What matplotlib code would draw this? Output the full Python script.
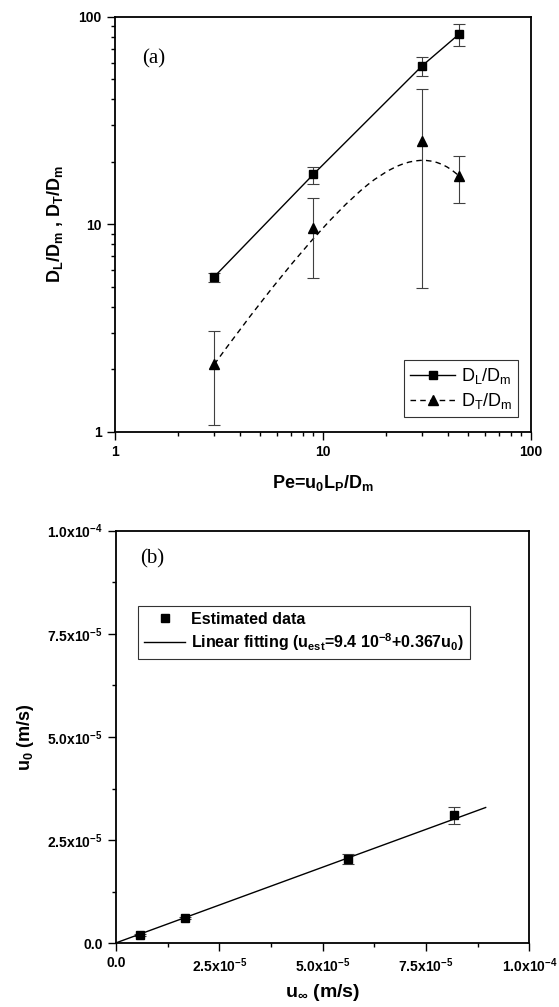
import numpy as np
import matplotlib
matplotlib.use("Agg")
import matplotlib.pyplot as plt
from matplotlib.path import Path
from matplotlib.patches import PathPatch
from matplotlib.lines import Line2D
from matplotlib.ticker import FixedLocator, FixedFormatter, NullFormatter, LogLocator

plt.rcParams['font.family'] = ['Liberation Sans', 'DejaVu Sans']
plt.rcParams['mathtext.default'] = 'regular'

# panel (a) data
pe = [3, 9, 30, 45]
dl = [5.58, 17.4, 58.0, 82.2]
dl_lo = [5.28, 15.7, 51.8, 72.5]
dl_hi = [5.84, 18.9, 64.0, 91.9]
dt = [2.11, 9.55, 25.2, 17.1]
dt_lo = [1.08, 5.53, 4.91, 12.7]
dt_hi = [3.07, 13.4, 44.7, 21.3]

# panel (b) data
u_inf = [5.7e-6, 16.6e-6, 56.0e-6, 81.7e-6]
u0 = [2.0e-6, 6.06e-6, 20.4e-6, 31.0e-6]
u0_err = [0.3e-6, 0.3e-6, 1.3e-6, 2.1e-6]
fit_x = [0.0, 8.94e-5]
fit_a, fit_b = 9.4e-8, 0.367

fig = plt.figure(figsize=(5.59, 10.07), dpi=100)
ax1 = fig.add_axes([0.2057, 0.5713, 0.744, 0.4121])
ax2 = fig.add_axes([0.2075, 0.0633, 0.7397, 0.4097])

ebar = dict(fmt='none', ecolor='0.25', elinewidth=0.8, capsize=4.5, capthick=0.8)
dash = (0, (4, 3))

# ---- (a)
ax1.set_xscale('log')
ax1.set_yscale('log')
ax1.errorbar(pe, dl, yerr=[np.subtract(dl, dl_lo), np.subtract(dl_hi, dl)], **ebar)
ax1.errorbar(pe, dt, yerr=[np.subtract(dt, dt_lo), np.subtract(dt_hi, dt)], **ebar)
l1, = ax1.plot(pe, dl, 'k-', marker='s', ms=5.3, lw=1.0)
# quadratic B-spline through the points as control points (drawn in log space)
mid = (np.sqrt(pe[1] * pe[2]), np.sqrt(dt[1] * dt[2]))
verts = [(pe[0], dt[0]), (pe[1], dt[1]), mid, (pe[2], dt[2]), (pe[3], dt[3])]
codes = [Path.MOVETO, Path.CURVE3, Path.CURVE3, Path.CURVE3, Path.CURVE3]
ax1.add_patch(PathPatch(Path(verts, codes), fill=False, ec='k', lw=1.0, ls=dash))
ax1.plot(pe, dt, 'k^', ms=7, ls='none')
h2 = Line2D([], [], color='k', marker='^', ms=7, lw=1.0, ls=dash)
ax1.set_xlim(1, 100)
ax1.set_ylim(1, 100)
for a in (ax1.xaxis, ax1.yaxis):
    a.set_major_locator(FixedLocator([1, 10, 100]))
    a.set_major_formatter(FixedFormatter(['1', '10', '100']))
    a.set_minor_locator(LogLocator(subs=np.arange(2, 10)))
    a.set_minor_formatter(NullFormatter())
ax1.set_xlabel(r'Pe=u$_0$L$_P$/D$_m$', fontsize=13, fontweight='bold', labelpad=10)
ax1.set_ylabel(r'D$_L$/D$_m$ , D$_T$/D$_m$', fontsize=13, fontweight='bold', labelpad=10)
ax1.text(0.066, 0.898, '(a)', transform=ax1.transAxes, fontsize=15,
         family='Liberation Serif', va='center')
leg1 = ax1.legend([l1, h2], [r'D$_L$/D$_m$', r'D$_T$/D$_m$'], loc='lower right',
                  bbox_to_anchor=(0.97, 0.035), fontsize=13, frameon=True, fancybox=False,
                  edgecolor='k', handlelength=2.5, handletextpad=0.3, borderpad=0.35,
                  labelspacing=0.25, borderaxespad=0)
leg1.get_frame().set_linewidth(0.8)

# ---- (b)
ax2.errorbar(u_inf, u0, yerr=u0_err, **ebar)
pts, = ax2.plot(u_inf, u0, 'ks', ms=5.3, ls='none')
fx = np.array(fit_x)
fl, = ax2.plot(fx, fit_a + fit_b * fx, 'k-', lw=1.0)
ax2.set_xlim(0, 1e-4)
ax2.set_ylim(0, 1e-4)
maj = [0, 2.5e-5, 5e-5, 7.5e-5, 1e-4]
labs = ['0.0', r'2.5x10$^{-5}$', r'5.0x10$^{-5}$', r'7.5x10$^{-5}$', r'1.0x10$^{-4}$']
for a in (ax2.xaxis, ax2.yaxis):
    a.set_major_locator(FixedLocator(maj))
    a.set_major_formatter(FixedFormatter(labs))
    a.set_minor_locator(FixedLocator([1.25e-5, 3.75e-5, 6.25e-5, 8.75e-5]))
ax2.set_xlabel(r'u$_\infty$ (m/s)', fontsize=14, fontweight='bold', labelpad=5)
ax2.set_ylabel(r'u$_0$ (m/s)', fontsize=13, fontweight='bold', labelpad=8)
ax2.text(0.058, 0.931, '(b)', transform=ax2.transAxes, fontsize=15,
         family='Liberation Serif', va='center')
leg2 = ax2.legend([pts, fl], ['Estimated data',
                              r'Linear fitting (u$_{est}$=9.4 10$^{-8}$+0.367u$_0$)'],
                  loc='upper left', bbox_to_anchor=(0.054, 0.8175), frameon=True,
                  fancybox=False, edgecolor='k', handlelength=2.6, handletextpad=0.35,
                  borderpad=0.35, labelspacing=0.3, borderaxespad=0,
                  prop=dict(size=11.5, weight='bold'))
leg2.get_frame().set_linewidth(0.8)

for ax in (ax1, ax2):
    for s in ax.spines.values():
        s.set_linewidth(1.3)
    ax.tick_params(which='both', direction='out', top=False, right=False, width=1.0)
    ax.tick_params(which='major', length=5.5, pad=4)
    ax.tick_params(which='minor', length=3)
    for lab in ax.get_xticklabels() + ax.get_yticklabels():
        lab.set_fontsize(10)
        lab.set_fontweight('bold')

fig.savefig('out.png', dpi=100)
